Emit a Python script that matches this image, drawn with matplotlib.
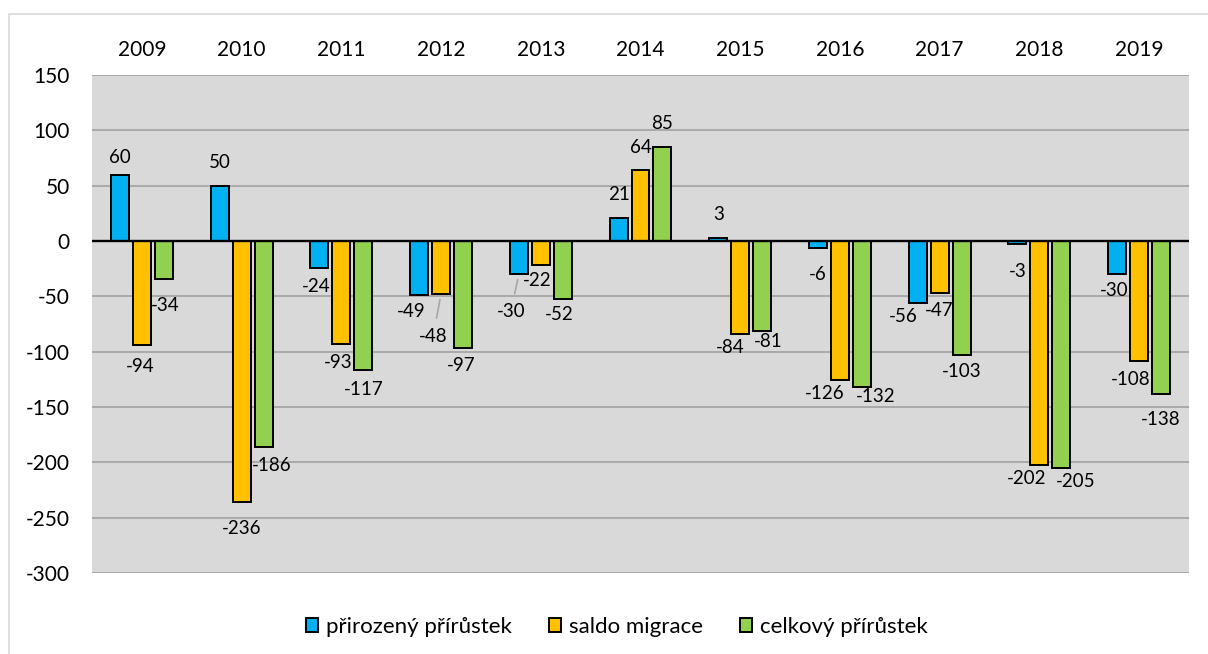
import matplotlib
matplotlib.use("Agg")
import matplotlib.pyplot as plt
from matplotlib.patches import Rectangle
import numpy as np

years = ["2009", "2010", "2011", "2012", "2013", "2014", "2015", "2016", "2017", "2018", "2019"]
prirozeny = [60, 50, -24, -49, -30, 21, 3, -6, -56, -3, -30]
saldo = [-94, -236, -93, -48, -22, 64, -84, -126, -47, -202, -108]
celkovy = [-34, -186, -117, -97, -52, 85, -81, -132, -103, -205, -138]
series_names = ["přirozený přírůstek", "saldo migrace", "celkový přírůstek"]
yticks = [150, 100, 50, 0, -50, -100, -150, -200, -250, -300]

colors = ["#00B0F0", "#FFC000", "#92D050"]

# label offsets in pixels (dx, dy downward)
label_offsets = [
    [(0, -17), (0, -23), (-3, 19), (-8, 16.5), (-8, 37.5), (0, -23), (0, -23.4), (0, 26.7), (-14, 13.7), (0, 27.4), (-3.4, 16.5)],
    [(-2, 21), (0, 26), (-3, 19), (-8, 42), (-3.6, 15.6), (0, -22.5), (-10, 13.3), (-15, 13), (0, 17), (-12.6, 13.7), (-8, 19.4)],
    [(1, 27), (8, 19), (0, 19), (-2, 17), (-3, 16.4), (0, -23.6), (6.5, 11), (14, 9.7), (0, 16.7), (14, 13.7), (0, 26.2)],
]
leaders = {(1, 3), (0, 4)}

plt.rcParams['font.family'] = ['Lato', 'DejaVu Sans']
FS_TICK = 15
FS_LBL = 13.5
FS_LEG = 16

W, H = 1208, 654
fig = plt.figure(figsize=(W / 100, H / 100), dpi=100)
fig.patch.set_facecolor("white")

# outer chart border
fig.patches.append(Rectangle((9 / W, -0.1), 1.2, (H - 14) / H + 0.1, transform=fig.transFigure,
                             facecolor="none", edgecolor="#D9D9D9", linewidth=1.2))

ax = fig.add_axes([92 / W, (H - 573) / H, (1189 - 92) / W, (573 - 75) / H])
ax.set_facecolor("#D9D9D9")

x = np.arange(len(years))
width = 0.18
shift = 0.22
data = [prirozeny, saldo, celkovy]
for s, (vals, col, name) in enumerate(zip(data, colors, series_names)):
    xs = x + (s - 1) * shift
    ax.bar(xs, vals, width=width, color=col, edgecolor="black", linewidth=1.4, label=name, zorder=3)
    for i, v in enumerate(vals):
        dx, dy = label_offsets[s][i]
        kw = {}
        if (s, i) in leaders:
            kw["arrowprops"] = dict(arrowstyle="-", color="#A6A6A6", lw=1.2, shrinkA=5, shrinkB=4)
        ax.annotate(str(v), xy=(xs[i], v), xytext=(dx, -dy), textcoords="offset pixels",
                    ha="center", va="center", fontsize=FS_LBL, color="black", zorder=5, **kw)

ax.set_xlim(-0.5, len(years) - 0.5)
ax.set_ylim(-300, 150)
ax.set_yticks(yticks)
ax.set_yticklabels([str(t) for t in yticks])
ax.yaxis.grid(True, color="#A6A6A6", linewidth=1.3, zorder=1)
ax.set_axisbelow(True)
ax.axhline(0, color="black", linewidth=1.7, zorder=4)

ax.xaxis.tick_top()
ax.set_xticks(x)
ax.set_xticklabels(years)
ax.tick_params(axis="x", length=0, pad=11, labelsize=FS_TICK)
ax.tick_params(axis="y", length=0, pad=16, labelsize=FS_TICK)
for sp in ax.spines.values():
    sp.set_visible(False)

leg = fig.legend(loc="center", bbox_to_anchor=(617 / W, (H - 627) / H), ncol=3, frameon=False,
                 fontsize=FS_LEG, handlelength=0.55, handleheight=0.55, handletextpad=0.36,
                 columnspacing=1.66)
for p in leg.get_patches():
    p.set_linewidth(1.4)

fig.savefig("out.png", dpi=100, facecolor="white")
